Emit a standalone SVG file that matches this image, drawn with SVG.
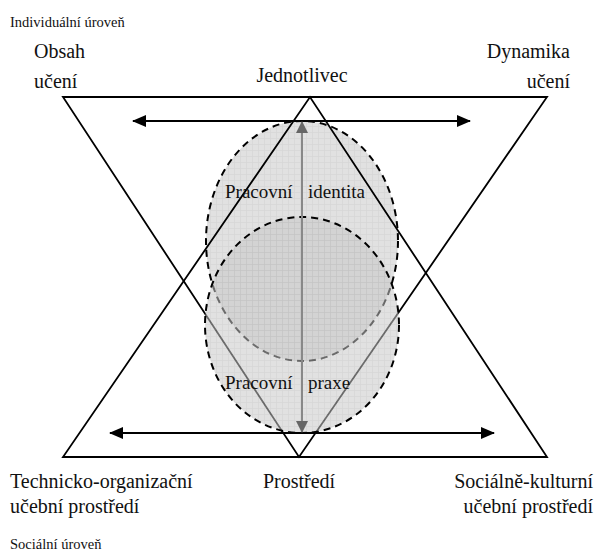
<svg xmlns="http://www.w3.org/2000/svg" width="597" height="557" viewBox="0 0 597 557">
<style>
text{font-family:"Liberation Serif","DejaVu Serif",serif;fill:#111}
.s{font-size:14.5px}
.m{font-size:20px}
.e{font-size:19px}
.tri{fill:none;stroke:#000;stroke-width:1.8}
.harr{stroke:#000;stroke-width:2;fill:none}
.ell{stroke:#000;stroke-width:2;stroke-dasharray:7 5}
</style>
<defs>
<pattern id="grid" width="6" height="6" patternUnits="userSpaceOnUse">
<rect width="6" height="6" fill="#c8c8c8"/>
<path d="M0 0.5H6M0.5 0V6" stroke="#b4b4b4" stroke-width="0.7"/>
</pattern>
<marker id="ah" markerWidth="14" markerHeight="12" refX="13" refY="6" orient="auto-start-reverse" markerUnits="userSpaceOnUse">
<path d="M0 0L14 6L0 12Z" fill="#000"/>
</marker>
<marker id="gh" markerWidth="12" markerHeight="12" refX="11" refY="6" orient="auto-start-reverse" markerUnits="userSpaceOnUse">
<path d="M0 0L12 6L0 12Z" fill="#666"/>
</marker>
</defs>

<g id="identita">
<ellipse cx="302" cy="241" rx="96" ry="120" fill="url(#grid)" fill-opacity="0.55"/>
<ellipse cx="302" cy="241" rx="96" ry="120" class="ell" fill="none"/>
</g>

<g id="triangles">
<polygon id="tri-down" class="tri" points="63,97 547,97 299,457"/>
<polygon id="tri-up" class="tri" points="63,457 547,457 310,97"/>
</g>

<g id="praxe">
<ellipse cx="302" cy="325" rx="97" ry="108" fill="url(#grid)" opacity="0.55"/>
<ellipse cx="302" cy="325" rx="97" ry="108" class="ell" fill="none"/>
</g>

<g id="connectors">
<line x1="133" y1="121" x2="470" y2="121" class="harr" marker-start="url(#ah)" marker-end="url(#ah)"/>
<line x1="110" y1="433" x2="494" y2="433" class="harr" marker-start="url(#ah)" marker-end="url(#ah)"/>
<line x1="302" y1="122" x2="302" y2="432" stroke="#888" stroke-width="2" marker-start="url(#gh)" marker-end="url(#gh)"/>
</g>

<g id="labels">
<text class="s" x="10" y="27" font-family="Liberation Serif, serif">Individuální úroveň</text>
<text class="m" x="34" y="58" font-family="Liberation Serif, serif">Obsah</text>
<text class="m" x="34" y="88" font-family="Liberation Serif, serif">učení</text>
<text class="m" x="302" y="82" text-anchor="middle" font-family="Liberation Serif, serif">Jednotlivec</text>
<text class="m" x="570" y="58" text-anchor="end" font-family="Liberation Serif, serif">Dynamika</text>
<text class="m" x="570" y="88" text-anchor="end" font-family="Liberation Serif, serif">učení</text>
<text class="e" x="225" y="198" font-family="Liberation Serif, serif">Pracovní</text>
<text class="e" x="308" y="198" font-family="Liberation Serif, serif">identita</text>
<text class="e" x="225" y="389" font-family="Liberation Serif, serif">Pracovní</text>
<text class="e" x="308" y="389" font-family="Liberation Serif, serif">praxe</text>
<text class="m" x="10" y="488" font-family="Liberation Serif, serif">Technicko-organizační</text>
<text class="m" x="10" y="513" font-family="Liberation Serif, serif">učební prostředí</text>
<text class="m" x="299" y="488" text-anchor="middle" font-family="Liberation Serif, serif">Prostředí</text>
<text class="m" x="593" y="488" text-anchor="end" font-family="Liberation Serif, serif">Sociálně-kulturní</text>
<text class="m" x="593" y="513" text-anchor="end" font-family="Liberation Serif, serif">učební prostředí</text>
<text class="s" x="10" y="549" font-family="Liberation Serif, serif">Sociální úroveň</text>
</g>
</svg>
